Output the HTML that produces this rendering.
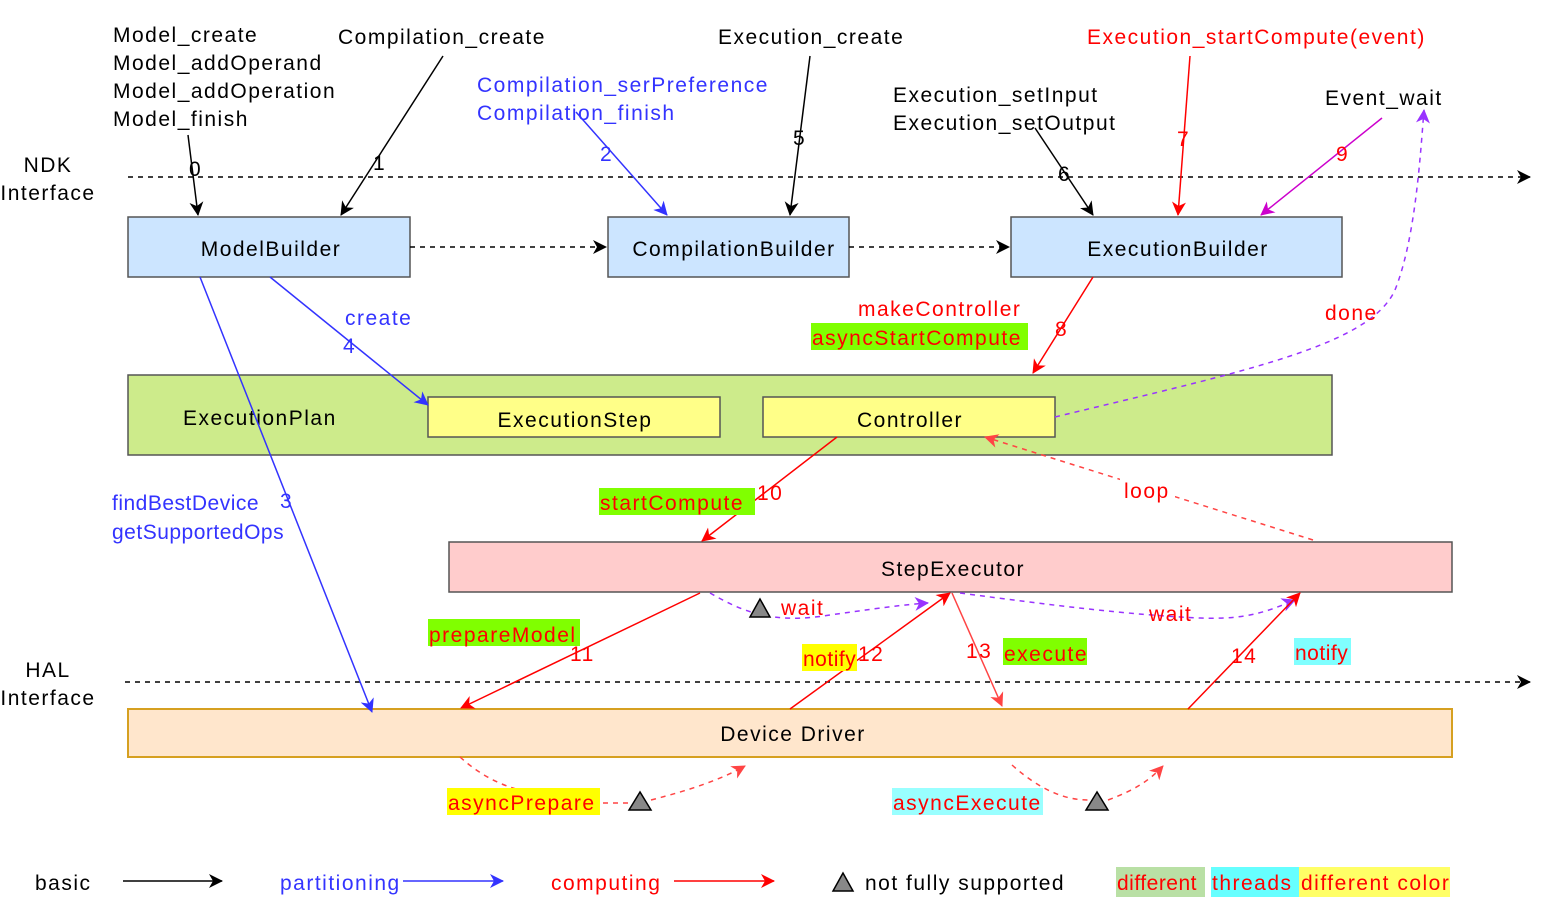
<!DOCTYPE html>
<html><head><meta charset="utf-8"><style>
html,body{margin:0;padding:0;background:#fff;}
svg{display:block;}
text{font-family:"Liberation Sans",sans-serif;font-size:21px;letter-spacing:1.5px;}
</style></head><body>
<svg width="1550" height="903" viewBox="0 0 1550 903" xmlns="http://www.w3.org/2000/svg">
<defs>
<marker id="ab" markerWidth="14" markerHeight="14" refX="13" refY="7" orient="auto" markerUnits="userSpaceOnUse"><path d="M0,0 L14,7 L0,14 L4,7 z" fill="#3333ff"/></marker>
<marker id="ar" markerWidth="14" markerHeight="14" refX="13" refY="7" orient="auto" markerUnits="userSpaceOnUse"><path d="M0,0 L14,7 L0,14 L4,7 z" fill="#ff0000"/></marker>
<marker id="ar2" markerWidth="14" markerHeight="14" refX="13" refY="7" orient="auto" markerUnits="userSpaceOnUse"><path d="M0,0 L14,7 L0,14 L4,7 z" fill="#ff4444"/></marker>
<marker id="ap" markerWidth="14" markerHeight="14" refX="13" refY="7" orient="auto" markerUnits="userSpaceOnUse"><path d="M0,0 L14,7 L0,14 L4,7 z" fill="#9933ff"/></marker>
<marker id="am" markerWidth="14" markerHeight="14" refX="13" refY="7" orient="auto" markerUnits="userSpaceOnUse"><path d="M0,0 L14,7 L0,14 L4,7 z" fill="#cc00cc"/></marker>
<marker id="ak2" markerWidth="14" markerHeight="14" refX="13" refY="7" orient="auto" markerUnits="userSpaceOnUse"><path d="M0,0 L14,7 L0,14 L4,7 z" fill="#000"/></marker>
</defs>

<line x1="128" y1="177" x2="1530" y2="177" stroke="#000" stroke-width="1.5" stroke-dasharray="5,5" marker-end="url(#ak2)"/>
<line x1="125" y1="682" x2="1530" y2="682" stroke="#000" stroke-width="1.5" stroke-dasharray="5,5" marker-end="url(#ak2)"/>
<text x="48" y="172" text-anchor="middle">NDK</text>
<text x="48" y="200" text-anchor="middle">Interface</text>
<text x="48" y="677" text-anchor="middle">HAL</text>
<text x="48" y="705" text-anchor="middle">Interface</text>

<rect x="128" y="217" width="282" height="60" fill="#cce5ff" stroke="#555" stroke-width="1.5"/>
<text x="271" y="256" text-anchor="middle">ModelBuilder</text>
<rect x="608" y="217" width="241" height="60" fill="#cce5ff" stroke="#555" stroke-width="1.5"/>
<text x="734" y="256" text-anchor="middle">CompilationBuilder</text>
<rect x="1011" y="217" width="331" height="60" fill="#cce5ff" stroke="#555" stroke-width="1.5"/>
<text x="1178" y="256" text-anchor="middle">ExecutionBuilder</text>

<line x1="410" y1="247" x2="606" y2="247" stroke="#000" stroke-width="1.5" stroke-dasharray="5,5" marker-end="url(#ak2)"/>
<line x1="849" y1="247" x2="1009" y2="247" stroke="#000" stroke-width="1.5" stroke-dasharray="5,5" marker-end="url(#ak2)"/>

<rect x="128" y="375" width="1204" height="80" fill="#cdeb8b" stroke="#555" stroke-width="1.5"/>
<text x="183" y="425">ExecutionPlan</text>
<rect x="428" y="397" width="292" height="40" fill="#ffff88" stroke="#555" stroke-width="1.5"/>
<text x="575" y="427" text-anchor="middle">ExecutionStep</text>
<rect x="763" y="397" width="292" height="40" fill="#ffff88" stroke="#555" stroke-width="1.5"/>
<text x="910" y="427" text-anchor="middle">Controller</text>

<rect x="449" y="542" width="1003" height="50" fill="#ffcccc" stroke="#555" stroke-width="1.5"/>
<text x="953" y="576" text-anchor="middle">StepExecutor</text>

<rect x="128" y="709" width="1324" height="48" fill="#ffe6cc" stroke="#d6a020" stroke-width="2"/>
<text x="793" y="741" text-anchor="middle">Device Driver</text>

<text x="113" y="42">Model_create</text>
<text x="113" y="70">Model_addOperand</text>
<text x="113" y="98">Model_addOperation</text>
<text x="113" y="126">Model_finish</text>
<text x="338" y="44">Compilation_create</text>
<text x="477" y="92" fill="#3333ff">Compilation_serPreference</text>
<text x="477" y="120" fill="#3333ff">Compilation_finish</text>
<text x="718" y="44">Execution_create</text>
<text x="893" y="102">Execution_setInput</text>
<text x="893" y="130">Execution_setOutput</text>
<text x="1087" y="44" fill="#ff0000">Execution_startCompute(event)</text>
<text x="1325" y="105">Event_wait</text>

<line x1="188" y1="135" x2="198" y2="215" stroke="#000" stroke-width="1.5" marker-end="url(#ak2)"/>
<text x="189" y="176" fill="#000">0</text>
<line x1="443" y1="56" x2="341" y2="215" stroke="#000" stroke-width="1.5" marker-end="url(#ak2)"/>
<text x="373" y="170">1</text>
<line x1="576" y1="112" x2="667" y2="215" stroke="#3333ff" stroke-width="1.5" marker-end="url(#ab)"/>
<text x="600" y="161" fill="#3333ff">2</text>
<line x1="810" y1="56" x2="790" y2="215" stroke="#000" stroke-width="1.5" marker-end="url(#ak2)"/>
<text x="793" y="145">5</text>
<line x1="1035" y1="128" x2="1093" y2="215" stroke="#000" stroke-width="1.5" marker-end="url(#ak2)"/>
<text x="1058" y="181">6</text>
<line x1="1190" y1="56" x2="1178" y2="215" stroke="#ff0000" stroke-width="1.5" marker-end="url(#ar)"/>
<text x="1177" y="146" fill="#ff0000">7</text>
<line x1="1382" y1="118" x2="1261" y2="215" stroke="#cc00cc" stroke-width="1.5" marker-end="url(#am)"/>
<text x="1336" y="161" fill="#ff0000">9</text>

<line x1="200" y1="277" x2="372" y2="712" stroke="#3333ff" stroke-width="1.5" marker-end="url(#ab)"/>
<text x="112" y="510" fill="#3333ff" style="letter-spacing:0.5px">findBestDevice</text>
<text x="280" y="508" fill="#3333ff">3</text>
<text x="112" y="539" fill="#3333ff" style="letter-spacing:0.5px">getSupportedOps</text>
<line x1="270" y1="277" x2="428" y2="405" stroke="#3333ff" stroke-width="1.5" marker-end="url(#ab)"/>
<text x="345" y="325" fill="#3333ff">create</text>
<text x="343" y="353" fill="#3333ff">4</text>

<line x1="1093" y1="277" x2="1033" y2="373" stroke="#ff0000" stroke-width="1.5" marker-end="url(#ar)"/>
<text x="858" y="316" fill="#ff0000">makeController</text>
<rect x="811" y="323" width="217" height="27" fill="#80ff00"/>
<text x="812" y="345" fill="#ff0000">asyncStartCompute</text>
<text x="1055" y="336" fill="#ff0000">8</text>

<path d="M1055,417 C1250,370 1370,345 1395,290 C1415,240 1420,160 1424,110" fill="none" stroke="#9933ff" stroke-width="1.5" stroke-dasharray="5,5" marker-end="url(#ap)"/>
<text x="1325" y="320" fill="#ff0000">done</text>

<line x1="837" y1="437" x2="702" y2="541" stroke="#ff0000" stroke-width="1.5" marker-end="url(#ar)"/>
<rect x="599" y="488" width="156" height="27" fill="#80ff00"/>
<text x="600" y="510" fill="#ff0000">startCompute</text>
<text x="757" y="500" fill="#ff0000">10</text>

<line x1="1313" y1="540" x2="985" y2="437" stroke="#ff4444" stroke-width="1.5" stroke-dasharray="5,5" marker-end="url(#ar2)"/>
<rect x="1120" y="478" width="55" height="26" fill="#fff"/>
<text x="1124" y="498" fill="#ff0000">loop</text>

<line x1="700" y1="593" x2="461" y2="708" stroke="#ff0000" stroke-width="1.5" marker-end="url(#ar)"/>
<rect x="428" y="619" width="152" height="27" fill="#80ff00"/>
<text x="429" y="642" fill="#ff0000">prepareModel</text>
<text x="570" y="661" fill="#ff0000">11</text>

<path d="M710,593 C740,610 770,625 830,615 C880,608 900,605 928,603" fill="none" stroke="#9933ff" stroke-width="1.5" stroke-dasharray="5,5" marker-end="url(#ap)"/>
<polygon points="760,599 750,617 770,617" fill="#888" stroke="#000" stroke-width="1.5"/>
<text x="781" y="615" fill="#ff0000">wait</text>

<line x1="790" y1="709" x2="950" y2="593" stroke="#ff0000" stroke-width="1.5" marker-end="url(#ar)"/>
<rect x="802" y="644" width="55" height="27" fill="#ffff00"/>
<text x="803" y="666" fill="#ff0000" style="letter-spacing:0.5px">notify</text>
<text x="858" y="661" fill="#ff0000">12</text>

<line x1="952" y1="593" x2="1002" y2="706" stroke="#ff4444" stroke-width="1.5" marker-end="url(#ar2)"/>
<text x="966" y="658" fill="#ff0000">13</text>
<rect x="1003" y="638" width="84" height="27" fill="#80ff00"/>
<text x="1004" y="661" fill="#ff0000">execute</text>

<path d="M960,593 C1050,605 1130,615 1200,618 C1250,620 1270,610 1295,600" fill="none" stroke="#9933ff" stroke-width="1.5" stroke-dasharray="5,5" marker-end="url(#ap)"/>
<text x="1149" y="621" fill="#ff0000">wait</text>

<line x1="1188" y1="709" x2="1300" y2="593" stroke="#ff0000" stroke-width="1.5" marker-end="url(#ar)"/>
<text x="1231" y="663" fill="#ff0000">14</text>
<rect x="1294" y="638" width="57" height="27" fill="#80ffff"/>
<text x="1295" y="660" fill="#ff0000" style="letter-spacing:0.5px">notify</text>

<path d="M460,757 C480,775 500,785 520,790" fill="none" stroke="#ff4444" stroke-width="1.5" stroke-dasharray="5,5"/>
<rect x="447" y="788" width="153" height="27" fill="#ffff00"/>
<text x="448" y="810" fill="#ff0000">asyncPrepare</text>
<line x1="603" y1="803" x2="628" y2="803" stroke="#ff4444" stroke-width="1.5" stroke-dasharray="5,5"/>
<polygon points="640,792 629,810 651,810" fill="#888" stroke="#000" stroke-width="1.5"/>
<path d="M651,800 C690,790 720,780 745,766" fill="none" stroke="#ff4444" stroke-width="1.5" stroke-dasharray="5,5" marker-end="url(#ar2)"/>

<path d="M1012,765 C1040,790 1065,800 1088,800" fill="none" stroke="#ff4444" stroke-width="1.5" stroke-dasharray="5,5"/>
<rect x="892" y="788" width="151" height="27" fill="#99ffff"/>
<text x="893" y="810" fill="#ff0000">asyncExecute</text>
<polygon points="1097,792 1086,810 1108,810" fill="#888" stroke="#000" stroke-width="1.5"/>
<path d="M1108,800 C1135,790 1150,780 1163,766" fill="none" stroke="#ff4444" stroke-width="1.5" stroke-dasharray="5,5" marker-end="url(#ar2)"/>

<text x="35" y="890">basic</text>
<line x1="123" y1="881" x2="222" y2="881" stroke="#000" stroke-width="1.5" marker-end="url(#ak2)"/>
<text x="280" y="890" fill="#3333ff">partitioning</text>
<line x1="403" y1="881" x2="503" y2="881" stroke="#3333ff" stroke-width="1.5" marker-end="url(#ab)"/>
<text x="551" y="890" fill="#ff0000">computing</text>
<line x1="674" y1="881" x2="774" y2="881" stroke="#ff0000" stroke-width="1.5" marker-end="url(#ar)"/>
<polygon points="843,873 833,891 853,891" fill="#888" stroke="#000" stroke-width="1.5"/>
<text x="865" y="890">not fully supported</text>
<rect x="1116" y="867" width="89" height="30" fill="#b9e0a5"/>
<rect x="1211" y="867" width="88" height="30" fill="#66ffff"/>
<rect x="1299" y="867" width="151" height="30" fill="#ffff66"/>
<text x="1117" y="890" fill="#ff0000" style="letter-spacing:0.5px">different</text>
<text x="1212" y="890" fill="#ff0000">threads</text>
<text x="1301" y="890" fill="#ff0000">different color</text>
</svg>
</body></html>
